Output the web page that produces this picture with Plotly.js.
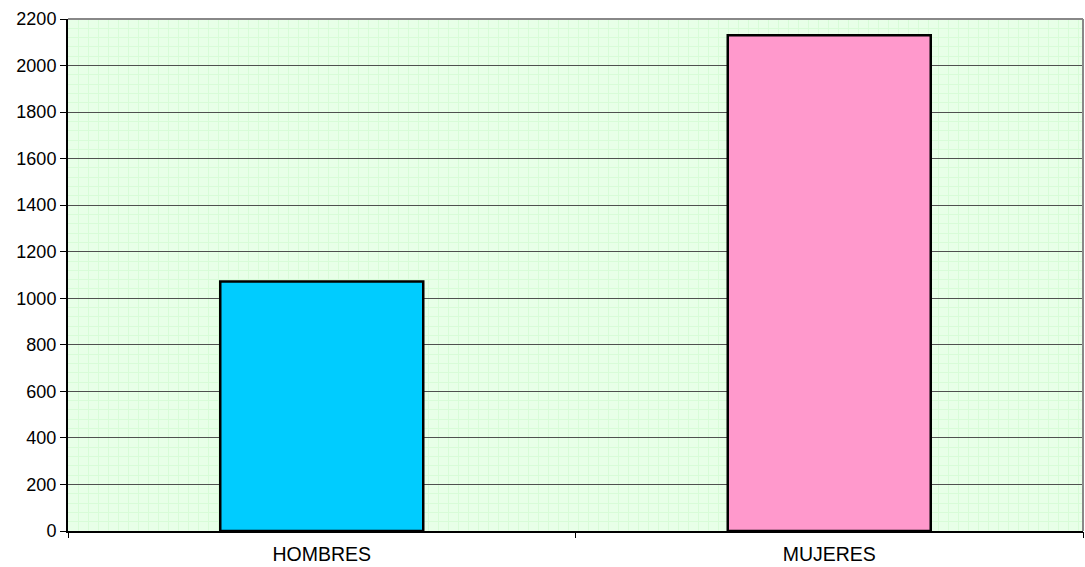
<!DOCTYPE html>
<html>
<head>
<meta charset="utf-8">
<script src="https://cdn.plot.ly/plotly-3.0.1.min.js"></script>
<style>html,body{margin:0;padding:0;background:#fff;}#chart{width:1085px;height:567px;}</style>
</head>
<body>
<div id="chart"></div>
<script>
const categories = ["HOMBRES", "MUJERES"];
const values = [1072, 2130];
const barColors = ["#00CCFF", "#FF99CC"];
const yTickVals = [0, 200, 400, 600, 800, 1000, 1200, 1400, 1600, 1800, 2000, 2200];

const traces = [
  { type: "scatter", x: [], y: [], xaxis: "x", yaxis: "y", hoverinfo: "skip", showlegend: false },
  {
    type: "bar",
    x: categories,
    y: values,
    xaxis: "x2", yaxis: "y",
    width: 0.4,
    marker: { color: barColors, line: { color: "#000000", width: 2.5 } },
    hoverinfo: "x+y"
  }
];

const layout = {
  width: 1085, height: 567,
  margin: { l: 68, r: 2, t: 19, b: 36 },
  paper_bgcolor: "#FFFFFF",
  plot_bgcolor: "#E8FFE8",
  showlegend: false,
  font: { family: "Liberation Sans, Arial, sans-serif", size: 18, color: "#000" },
  xaxis: {
    type: "linear",
    range: [0, 101.5], dtick: 1, tick0: 0,
    showgrid: true, gridcolor: "#D8FCD8", gridwidth: 1,
    showticklabels: false, ticks: "", zeroline: false,
    showline: true, linecolor: "#000", linewidth: 2
  },
  xaxis2: {
    overlaying: "x", side: "bottom", type: "category",
    range: [-0.5, 1.5],
    ticks: "outside", tickson: "boundaries", ticklen: 6, tickcolor: "#000", tickwidth: 1,
    ticklabelstandoff: 9,
    showgrid: false, zeroline: false, showline: false,
    tickfont: { size: 19.5 }
  },
  yaxis: {
    range: [0, 2200],
    tickvals: yTickVals,
    showline: true, linecolor: "#000", linewidth: 2,
    ticks: "outside", ticklen: 6, tickcolor: "#000",
    showgrid: true, gridcolor: "#505050", gridwidth: 1,
    zeroline: false,
    minor: { dtick: 40, showgrid: true, gridcolor: "#D8FCD8", gridwidth: 1, ticks: "" },
    tickfont: { size: 18 }
  },
  shapes: [
    { type: "line", xref: "paper", yref: "paper", x0: 0, x1: 1, y0: 1, y1: 1, line: { color: "#888888", width: 2 } },
    { type: "line", xref: "paper", yref: "paper", x0: 1, x1: 1, y0: 0, y1: 1, line: { color: "#888888", width: 2 } }
  ]
};

Plotly.newPlot("chart", traces, layout, { displayModeBar: false, staticPlot: true });
</script>
</body>
</html>
